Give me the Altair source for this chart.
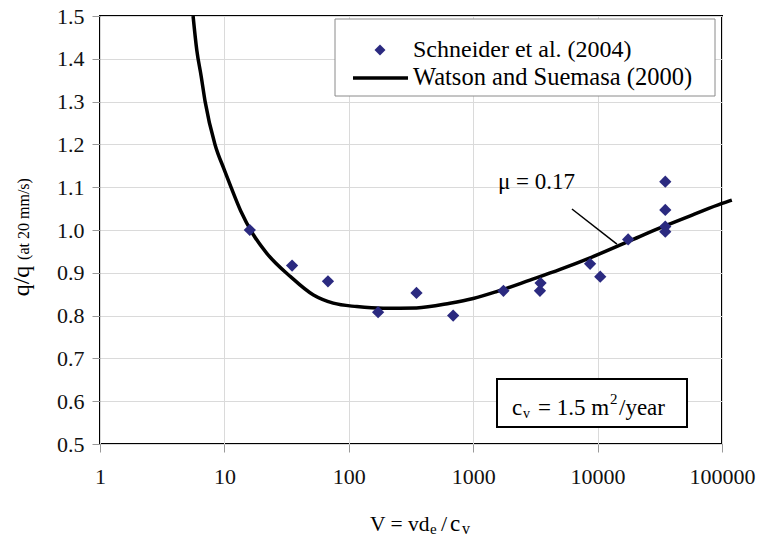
import altair as alt
import pandas as pd

# ---------------- data ----------------
schneider_v = [16, 35, 68, 172, 350, 690, 1750, 3440, 3480, 8700, 10500, 17600,
               35000, 35000, 35000, 35000]
schneider_q = [1.00, 0.917, 0.88, 0.808, 0.853, 0.80, 0.858, 0.858, 0.876, 0.921,
               0.891, 0.978, 1.113, 1.047, 1.008, 0.996]

watson_v = [5.6, 6.0, 6.5, 7.0, 8.4, 10, 11.3, 13.5, 17, 22, 34, 52, 75, 116, 189,
            350, 650, 1000, 1540, 2860, 5000, 8700, 17600, 35000, 60000, 100000, 120000]
watson_q = [1.5, 1.42, 1.36, 1.3, 1.2, 1.14, 1.1, 1.045, 0.99, 0.945, 0.891, 0.848,
            0.829, 0.821, 0.817, 0.818, 0.829, 0.84, 0.856, 0.883, 0.908, 0.935,
            0.973, 1.01, 1.037, 1.062, 1.07]

x_ticks = [1, 10, 100, 1000, 10000, 100000]
y_ticks = [0.5, 0.6, 0.7, 0.8, 0.9, 1.0, 1.1, 1.2, 1.3, 1.4, 1.5]

mu_label = ["μ = 0.17"]
mu_label_v = [1580]
mu_label_q = [1.096]
mu_leader_v = [6220, 14300]
mu_leader_q = [1.049, 0.967]

legend_labels = ["Schneider et al. (2004)", "Watson and Suemasa (2000)"]

# ---------------- style ----------------
SERIF = "Liberation Serif, Times New Roman, Times, serif"
NAVY = "#2b2a80"
W, H = 622, 428

xscale = alt.Scale(type="log", domain=[1, 100000], nice=False)
yscale = alt.Scale(domain=[0.5, 1.5], nice=False, zero=False)
xaxis = alt.Axis(values=x_ticks, format="d", title=None, grid=True,
                 labelFont=SERIF, labelFontSize=22, labelColor="#111",
                 tickColor="#999", tickSize=8, labelPadding=14, domain=False,
                 gridColor="#dadada", labelFlush=False, labelOverlap=False)
yaxis = alt.Axis(values=y_ticks, format=".1f", title=None, grid=True,
                 labelFont=SERIF, labelFontSize=22, labelColor="#111",
                 tickColor="#999", tickSize=8, labelPadding=8, domain=False,
                 gridColor="#dadada", labelFlush=False, labelOverlap=False)

curve_df = pd.DataFrame({"V": watson_v, "q": watson_q})
pts_df = pd.DataFrame({"V": schneider_v, "q": schneider_q})
lead_df = pd.DataFrame({"V": [mu_leader_v[0]], "V2": [mu_leader_v[1]],
                        "q": [mu_leader_q[0]], "q2": [mu_leader_q[1]]})
mu_df = pd.DataFrame({"V": mu_label_v, "q": mu_label_q, "t": mu_label})

curve = alt.Chart(curve_df).mark_line(color="black", strokeWidth=3.5,
                                      interpolate="monotone").encode(
    x=alt.X("V:Q", scale=xscale, axis=xaxis),
    y=alt.Y("q:Q", scale=yscale, axis=yaxis),
)
points = alt.Chart(pts_df).mark_point(shape="diamond", filled=True, size=150,
                                      color=NAVY, opacity=1).encode(
    x=alt.X("V:Q", scale=xscale, axis=xaxis),
    y=alt.Y("q:Q", scale=yscale, axis=yaxis),
)
leader = alt.Chart(lead_df).mark_rule(color="black", strokeWidth=1.5).encode(
    x=alt.X("V:Q", scale=xscale, axis=xaxis), x2="V2:Q",
    y=alt.Y("q:Q", scale=yscale, axis=yaxis), y2="q2:Q",
)
mu_text = alt.Chart(mu_df).mark_text(font=SERIF, fontSize=23, align="left",
                                     baseline="alphabetic", color="black").encode(
    x=alt.X("V:Q", scale=xscale, axis=xaxis),
    y=alt.Y("q:Q", scale=yscale, axis=yaxis),
    text="t:N",
)

dummy = alt.Data(values=[{"a": 1}])


def txt(s, x, y, size, angle=None, align="left", baseline="alphabetic"):
    kw = dict(text=s, font=SERIF, fontSize=size, align=align,
              baseline=baseline, color="black")
    if angle is not None:
        kw["angle"] = angle
    return alt.Chart(dummy).mark_text(**kw).encode(x=alt.value(x), y=alt.value(y))


def box(x1, x2, y1, y2, stroke, sw):
    return alt.Chart(dummy).mark_rect(fill="white", stroke=stroke, strokeWidth=sw).encode(
        x=alt.value(x1), x2=alt.value(x2), y=alt.value(y1), y2=alt.value(y2))


# legend
leg_box = box(235, 615, 3, 80, "#8a8a8a", 1)
leg_diamond = alt.Chart(dummy).mark_point(shape="diamond", filled=True, size=120,
                                          color=NAVY, opacity=1).encode(
    x=alt.value(280), y=alt.value(34))
leg_line = alt.Chart(dummy).mark_rule(color="black", strokeWidth=3.5).encode(
    x=alt.value(253), x2=alt.value(308), y=alt.value(62))
leg_t1 = txt(legend_labels[0], 313, 34, 24, baseline="middle")
leg_t2 = txt(legend_labels[1], 313, 62, 24.5, baseline="middle")

# c_v box
cv_box = box(397, 587, 363, 411, "black", 2)
cv_parts = [
    txt("c", 412, 399, 23),
    txt("v", 423, 402, 14),
    txt("= 1.5 m", 438, 399, 23),
    txt("2", 510, 388, 15),
    txt("/year", 519, 399, 23),
]

# x-axis title  V = vd_e/c_v
xt_parts = [
    txt("V = vd", 270, 515, 21.5),
    txt("e", 330, 518, 15),
    txt("/", 341, 515, 22),
    txt("c", 350, 515, 23),
    txt("v", 362, 518, 16),
]

# y-axis title  q/q (at 20 mm/s)
yt_parts = [
    txt("q/q", -71, 265, 24, angle=270, align="center"),
    txt("(at 20 mm/s)", -71, 203, 16, angle=270, align="center"),
]

chart = alt.layer(
    curve, points, leader, mu_text,
    leg_box, leg_diamond, leg_line, leg_t1, leg_t2,
    cv_box, *cv_parts, *xt_parts, *yt_parts,
).properties(
    width=W, height=H,
    autosize=alt.AutoSizeParams(type="none"),
    padding={"left": 100, "top": 16, "right": 38, "bottom": 95},
    background="white",
).configure_view(stroke="black", strokeWidth=2)

chart.save("out.html", embed_options={"renderer": "svg", "actions": False})
